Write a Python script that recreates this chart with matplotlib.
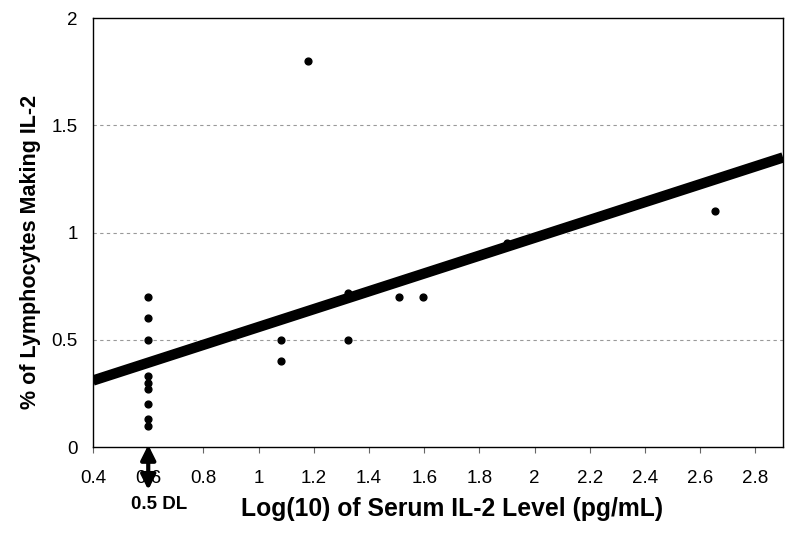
import matplotlib.pyplot as plt
import numpy as np
from matplotlib.ticker import FuncFormatter

plt.rcParams['font.family'] = ['Liberation Sans', 'DejaVu Sans']

# scatter data: log10 serum IL-2 vs % lymphocytes making IL-2
log_il2 = [0.6, 0.6, 0.6, 0.6, 0.6, 0.6, 0.6, 0.6, 0.6,
           1.08, 1.08, 1.18, 1.325, 1.325, 1.51, 1.595, 1.90, 2.655]
pct_lymph = [0.70, 0.60, 0.50, 0.33, 0.30, 0.27, 0.20, 0.13, 0.10,
             0.50, 0.40, 1.80, 0.72, 0.50, 0.70, 0.70, 0.95, 1.10]

# trend line end points
trend_x = [0.4, 2.9]
trend_y = [0.31, 1.35]

xticks = [0.4, 0.6, 0.8, 1.0, 1.2, 1.4, 1.6, 1.8, 2.0, 2.2, 2.4, 2.6, 2.8]
yticks = [0, 0.5, 1, 1.5, 2]

fig = plt.figure(figsize=(8, 5.38), dpi=100)
ax = fig.add_axes([0.1163, 0.1691, 0.8625, 0.7974])

for y in [0.5, 1, 1.5]:
    ax.axhline(y, color='#999999', lw=0.8, ls=(0, (3, 3)), zorder=0)

ax.plot(trend_x, trend_y, color='black', lw=7.5, solid_capstyle='butt', zorder=2)
ax.scatter(log_il2, pct_lymph, s=24, color='black', zorder=3)

ax.set_xlim(0.4, 2.9)
ax.set_ylim(0, 2)
ax.set_xticks(xticks)
ax.set_yticks(yticks)
fmt = FuncFormatter(lambda v, p: '%g' % round(v, 2))
ax.xaxis.set_major_formatter(fmt)
ax.yaxis.set_major_formatter(fmt)
ax.tick_params(axis='x', direction='out', length=4.3, pad=12.5, labelsize=13.5, width=0.8, color='#666666')
ax.tick_params(axis='y', length=0, pad=11, labelsize=13.5)
for s in ax.spines.values():
    s.set_linewidth(1.0)

ax.set_xlabel('Log(10) of Serum IL-2 Level (pg/mL)', fontsize=17.8, fontweight='bold')
ax.xaxis.set_label_coords(0.52, -0.116)
ax.set_ylabel('% of Lymphocytes Making IL-2', fontsize=15.5, fontweight='bold')
ax.yaxis.set_label_coords(-0.075, 0.455)

# detection-limit arrow
ax.annotate('', xy=(0.6, 0.01), xytext=(0.6, -0.2),
            arrowprops=dict(arrowstyle='<|-|>', lw=3, color='black',
                            mutation_scale=22, shrinkA=0, shrinkB=0),
            annotation_clip=False)
ax.text(0.64, -0.27, '0.5 DL', ha='center', va='center', fontsize=13.5,
        fontweight='bold', clip_on=False)

fig.savefig('out.png', dpi=100)
